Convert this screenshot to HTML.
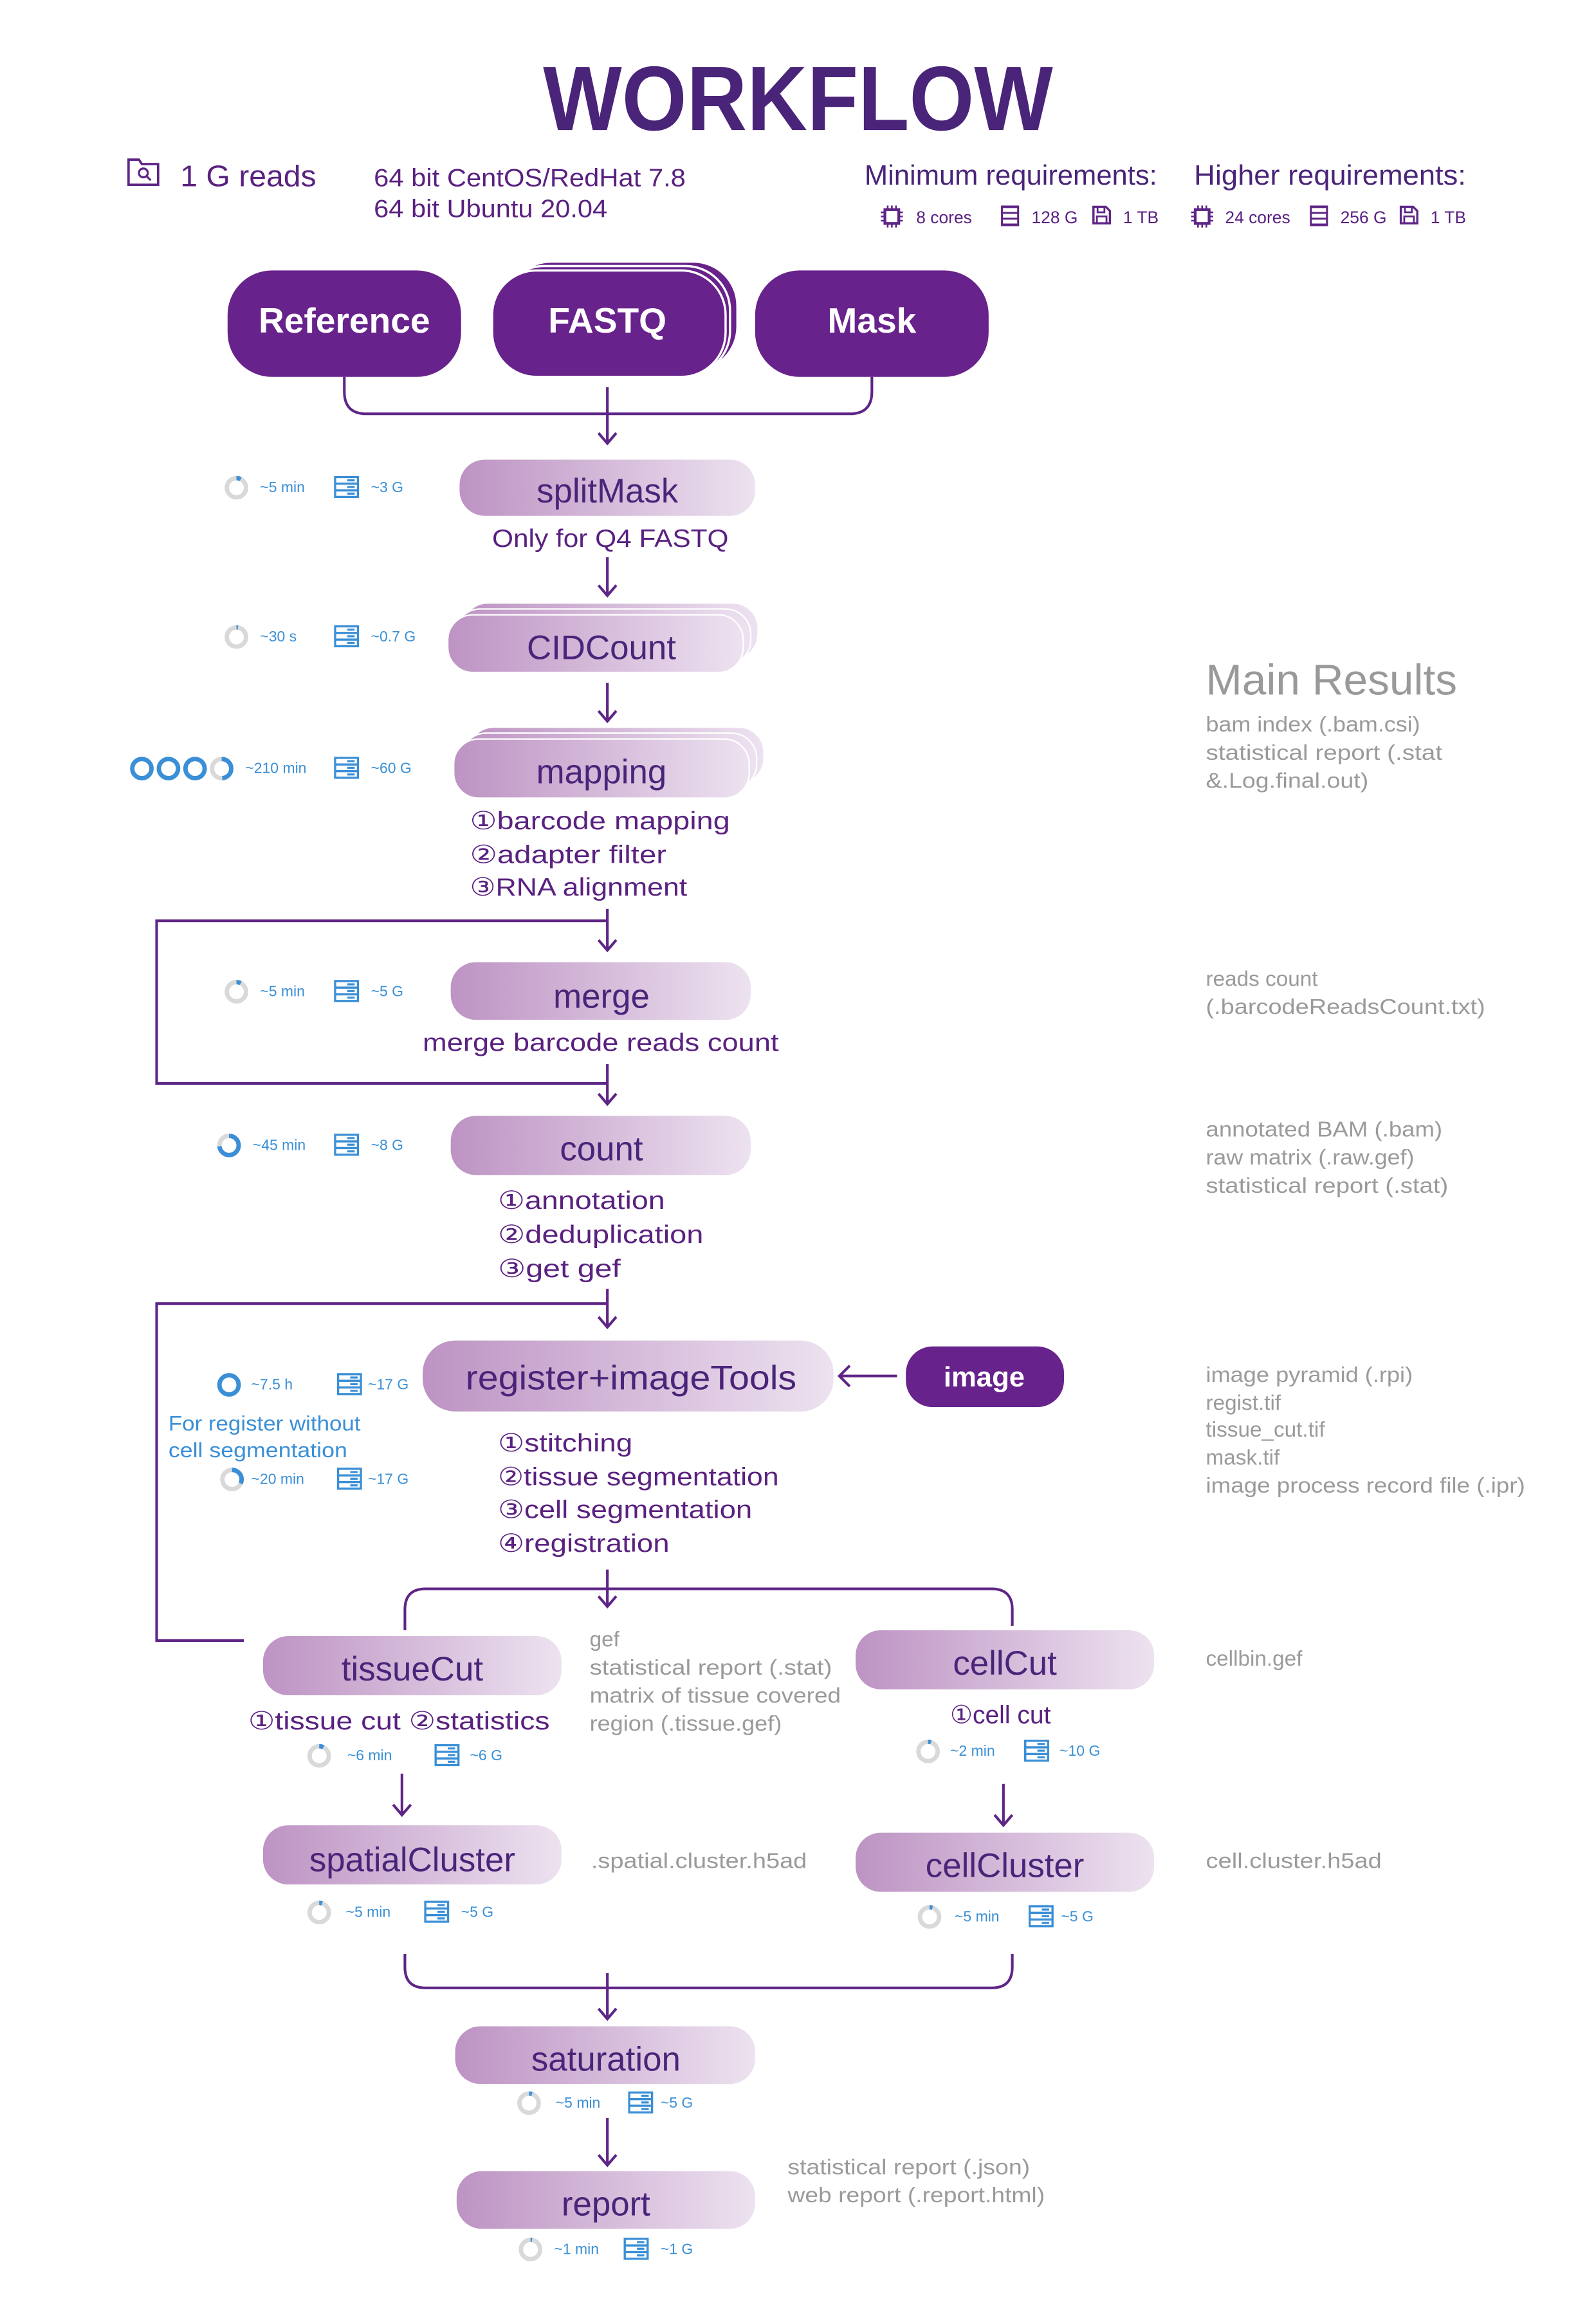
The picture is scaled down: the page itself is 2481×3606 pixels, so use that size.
<!DOCTYPE html>
<html><head><meta charset="utf-8"><style>
html,body{margin:0;padding:0;background:#fff;}
svg{display:block}
text{font-family:"Liberation Sans","DejaVu Sans",sans-serif;}
.h{fill:#4a2479;font-size:23px;text-anchor:middle}
.d{fill:#5a2180;font-size:17px}
.g{fill:#9a9a9a;font-size:14.5px}
.b{fill:#3a8fd6;font-size:10px}
.w{fill:#fff;font-weight:bold;text-anchor:middle}
.ln{fill:none;stroke:#5e2586;stroke-width:1.8}
</style></head><body>
<svg width="2481" height="3606" viewBox="0 0 1080 1569.7" preserveAspectRatio="none" xmlns="http://www.w3.org/2000/svg">
<defs>
<linearGradient id="gr" x1="0" x2="1" y1="0" y2="0"><stop offset="0" stop-color="#bd93c3"/><stop offset="1" stop-color="#ede2f0"/></linearGradient>
<symbol id="mem" viewBox="0 0 17 15"><rect x="0" y="0" width="17" height="15" fill="#3a8fd6"/><rect x="1.5" y="1.5" width="14" height="3" fill="#fff"/><rect x="1.5" y="6" width="14" height="3" fill="#fff"/><rect x="1.5" y="10.5" width="14" height="3" fill="#fff"/><rect x="9" y="2.3" width="5" height="1.4" fill="#3a8fd6"/><rect x="9" y="6.8" width="5" height="1.4" fill="#3a8fd6"/><rect x="9" y="11.3" width="5" height="1.4" fill="#3a8fd6"/></symbol>
<symbol id="cpu" viewBox="0 0 16 16"><rect x="3" y="3" width="10" height="10" fill="none" stroke="#5e2586" stroke-width="2"/><path d="M5 0v3M8 0v3M11 0v3M5 13v3M8 13v3M11 13v3M0 5h3M0 8h3M0 11h3M13 5h3M13 8h3M13 11h3" stroke="#5e2586" stroke-width="1.2"/></symbol>
<symbol id="ram" viewBox="0 0 14 16"><rect x="0" y="0" width="14" height="16" fill="#5e2586"/><rect x="1.5" y="2" width="11" height="3" fill="#fff"/><rect x="1.5" y="6.5" width="11" height="3" fill="#fff"/><rect x="1.5" y="11" width="11" height="3" fill="#fff"/></symbol>
<symbol id="disk" viewBox="0 0 14 14"><path d="M1 1h9l3 3v9H1z" fill="none" stroke="#5e2586" stroke-width="1.6"/><rect x="4" y="1" width="5" height="4" fill="none" stroke="#5e2586" stroke-width="1.3"/><rect x="3.5" y="8" width="7" height="5" fill="none" stroke="#5e2586" stroke-width="1.3"/></symbol>
</defs>

<text x="540" y="88" text-anchor="middle" font-size="62" font-weight="bold" fill="#4a2479" textLength="345" lengthAdjust="spacingAndGlyphs">WORKFLOW</text>
<path d="M87 108h7l2 3h11v14H87z" fill="none" stroke="#5e2586" stroke-width="1.6"/>
<circle cx="97" cy="117" r="3" fill="none" stroke="#5e2586" stroke-width="1.4"/><path d="M99 119l3 3" stroke="#5e2586" stroke-width="1.4"/>
<text x="122" y="126" font-size="20" fill="#5a2180" textLength="92" lengthAdjust="spacingAndGlyphs">1 G reads</text>
<text x="253" y="126" class="d" textLength="211" lengthAdjust="spacingAndGlyphs">64 bit CentOS/RedHat 7.8</text>
<text x="253" y="147" class="d" textLength="158" lengthAdjust="spacingAndGlyphs">64 bit Ubuntu 20.04</text>
<text x="585" y="125" font-size="19" fill="#4a2479" textLength="198" lengthAdjust="spacingAndGlyphs">Minimum requirements:</text>
<text x="808" y="125" font-size="19" fill="#4a2479" textLength="184" lengthAdjust="spacingAndGlyphs">Higher requirements:</text>
<use href="#cpu" x="596" y="139" width="15" height="15"/><text x="620" y="151" font-size="11.5" fill="#5a2180">8 cores</text>
<use href="#ram" x="677" y="139" width="13" height="14"/><text x="698" y="151" font-size="11.5" fill="#5a2180">128 G</text>
<use href="#disk" x="739" y="139" width="13" height="13"/><text x="760" y="151" font-size="11.5" fill="#5a2180">1 TB</text>
<use href="#cpu" x="806" y="139" width="15" height="15"/><text x="829" y="151" font-size="11.5" fill="#5a2180">24 cores</text>
<use href="#ram" x="886" y="139" width="13" height="14"/><text x="907" y="151" font-size="11.5" fill="#5a2180">256 G</text>
<use href="#disk" x="947" y="139" width="13" height="13"/><text x="968" y="151" font-size="11.5" fill="#5a2180">1 TB</text>

<rect x="154" y="183" width="158" height="72" rx="30" fill="#68228b"/>
<text x="233" y="225" class="w" font-size="24">Reference</text>
<rect x="343" y="177" width="156" height="74" rx="30" fill="#68228b" stroke="#fff" stroke-width="1.5"/>
<rect x="338" y="180" width="156" height="74" rx="30" fill="#68228b" stroke="#fff" stroke-width="1.5"/>
<rect x="333" y="183" width="158" height="72" rx="30" fill="#68228b" stroke="#fff" stroke-width="1.5"/>
<text x="411" y="225" class="w" font-size="24">FASTQ</text>
<rect x="511" y="183" width="158" height="72" rx="30" fill="#68228b"/>
<text x="590" y="225" class="w" font-size="24">Mask</text>
<path class="ln" d="M233 255v10q0 15 15 15h327q15 0 15-15v-10"/>
<path class="ln" d="M411 262v38M405 293l6 7 6-7"/>

<rect x="311" y="311" width="200" height="38" rx="17" fill="url(#gr)"/>
<text x="411" y="340" class="h" font-size="24">splitMask</text>
<text x="413" y="370" class="d" text-anchor="middle" textLength="160" lengthAdjust="spacingAndGlyphs">Only for Q4 FASTQ</text>
<path class="ln" d="M411 377v26M405 396l6 7 6-7"/>

<rect x="313" y="408" width="200" height="38" rx="17" fill="url(#gr)" stroke="#fff"/>
<rect x="308" y="412" width="200" height="38" rx="17" fill="url(#gr)" stroke="#fff"/>
<rect x="303" y="416" width="200" height="39" rx="17" fill="url(#gr)" stroke="#fff"/>
<text x="407" y="446" class="h" font-size="24">CIDCount</text>
<path class="ln" d="M411 462v26M405 481l6 7 6-7"/>

<rect x="317" y="492" width="200" height="38" rx="17" fill="url(#gr)" stroke="#fff"/>
<rect x="312" y="496" width="200" height="38" rx="17" fill="url(#gr)" stroke="#fff"/>
<rect x="307" y="500" width="200" height="40" rx="17" fill="url(#gr)" stroke="#fff"/>
<text x="407" y="530" class="h" font-size="24">mapping</text>
<text x="318" y="561" class="d" font-size="18" textLength="176" lengthAdjust="spacingAndGlyphs">①barcode mapping</text>
<text x="318" y="584" class="d" font-size="18" textLength="133" lengthAdjust="spacingAndGlyphs">②adapter filter</text>
<text x="318" y="606" class="d" font-size="18" textLength="147" lengthAdjust="spacingAndGlyphs">③RNA alignment</text>

<path class="ln" d="M411 615v28M405 636l6 7 6-7"/>
<path class="ln" d="M411 623H106v110h305"/>
<path class="ln" d="M411 720v27M405 740l6 7 6-7"/>

<rect x="305" y="651" width="203" height="39" rx="17" fill="url(#gr)"/>
<text x="407" y="682" class="h" font-size="24">merge</text>
<text x="286" y="711" class="d" font-size="18" textLength="241" lengthAdjust="spacingAndGlyphs">merge barcode reads count</text>

<rect x="305" y="755" width="203" height="40" rx="17" fill="url(#gr)"/>
<text x="407" y="785" class="h" font-size="24">count</text>
<text x="337" y="818" class="d" font-size="18" textLength="113" lengthAdjust="spacingAndGlyphs">①annotation</text>
<text x="337" y="841" class="d" font-size="18" textLength="139" lengthAdjust="spacingAndGlyphs">②deduplication</text>
<text x="337" y="864" class="d" font-size="18" textLength="83" lengthAdjust="spacingAndGlyphs">③get gef</text>

<path class="ln" d="M411 872v26M405 891l6 7 6-7"/>
<path class="ln" d="M411 882H106v228h59"/>

<rect x="286" y="907" width="278" height="48" rx="22" fill="url(#gr)"/>
<text x="427" y="940" class="h" font-size="23" textLength="224" lengthAdjust="spacingAndGlyphs">register+imageTools</text>
<path class="ln" d="M607 931h-39M575 924l-7 7 7 7"/>
<rect x="613" y="911" width="107" height="41" rx="18" fill="#68228b"/>
<text x="666" y="938" class="w" font-size="19">image</text>
<text x="337" y="982" class="d" font-size="18" textLength="91" lengthAdjust="spacingAndGlyphs">①stitching</text>
<text x="337" y="1005" class="d" font-size="18" textLength="190" lengthAdjust="spacingAndGlyphs">②tissue segmentation</text>
<text x="337" y="1027" class="d" font-size="18" textLength="172" lengthAdjust="spacingAndGlyphs">③cell segmentation</text>
<text x="337" y="1050" class="d" font-size="18" textLength="116" lengthAdjust="spacingAndGlyphs">④registration</text>
<text x="114" y="968" fill="#3a8fd6" font-size="14" textLength="130" lengthAdjust="spacingAndGlyphs">For register without</text>
<text x="114" y="986" fill="#3a8fd6" font-size="14" textLength="121" lengthAdjust="spacingAndGlyphs">cell segmentation</text>

<path class="ln" d="M411 1062v25M405 1080l6 7 6-7"/>
<path class="ln" d="M274 1103v-14q0-14 14-14h383q14 0 14 14v11"/>

<rect x="178" y="1107" width="202" height="40" rx="17" fill="url(#gr)"/>
<text x="279" y="1137" class="h" font-size="24">tissueCut</text>
<text x="168" y="1170" class="d" font-size="18" textLength="204" lengthAdjust="spacingAndGlyphs">①tissue cut  ②statistics</text>
<text x="399" y="1114" class="g">gef</text>
<text x="399" y="1133" class="g" textLength="164" lengthAdjust="spacingAndGlyphs">statistical report (.stat)</text>
<text x="399" y="1152" class="g" textLength="170" lengthAdjust="spacingAndGlyphs">matrix of tissue covered</text>
<text x="399" y="1171" class="g" textLength="130" lengthAdjust="spacingAndGlyphs">region (.tissue.gef)</text>

<rect x="579" y="1103" width="202" height="40" rx="17" fill="url(#gr)"/>
<text x="680" y="1133" class="h" font-size="24">cellCut</text>
<text x="677" y="1166" class="d" font-size="18" text-anchor="middle">①cell cut</text>

<path class="ln" d="M272 1200v28M266 1221l6 7 6-7"/>
<path class="ln" d="M679 1207v28M673 1228l6 7 6-7"/>

<rect x="178" y="1235" width="202" height="40" rx="17" fill="url(#gr)"/>
<text x="279" y="1266" class="h" font-size="24">spatialCluster</text>
<text x="400" y="1264" class="g" textLength="146" lengthAdjust="spacingAndGlyphs">.spatial.cluster.h5ad</text>
<rect x="579" y="1240" width="202" height="40" rx="17" fill="url(#gr)"/>
<text x="680" y="1270" class="h" font-size="24">cellCluster</text>

<path class="ln" d="M274 1322v9q0 14 14 14h383q14 0 14-14v-9"/>
<path class="ln" d="M411 1335v31M405 1359l6 7 6-7"/>

<rect x="308" y="1371" width="203" height="39" rx="17" fill="url(#gr)"/>
<text x="410" y="1401" class="h" font-size="24">saturation</text>
<path class="ln" d="M411 1433v32M405 1458l6 7 6-7"/>
<rect x="309" y="1469" width="202" height="39" rx="17" fill="url(#gr)"/>
<text x="410" y="1499" class="h" font-size="24">report</text>
<text x="533" y="1471" class="g" textLength="164" lengthAdjust="spacingAndGlyphs">statistical report (.json)</text>
<text x="533" y="1490" class="g" textLength="174" lengthAdjust="spacingAndGlyphs">web report (.report.html)</text>

<text x="816" y="470" font-size="29" fill="#999" textLength="170" lengthAdjust="spacingAndGlyphs">Main Results</text>
<text x="816" y="495" class="g" textLength="145" lengthAdjust="spacingAndGlyphs">bam index (.bam.csi)</text>
<text x="816" y="514" class="g" textLength="160" lengthAdjust="spacingAndGlyphs">statistical report (.stat</text>
<text x="816" y="533" class="g" textLength="110" lengthAdjust="spacingAndGlyphs">&amp;.Log.final.out)</text>
<text x="816" y="667" class="g">reads count</text>
<text x="816" y="686" class="g" textLength="189" lengthAdjust="spacingAndGlyphs">(.barcodeReadsCount.txt)</text>
<text x="816" y="769" class="g" textLength="160" lengthAdjust="spacingAndGlyphs">annotated BAM (.bam)</text>
<text x="816" y="788" class="g" textLength="141" lengthAdjust="spacingAndGlyphs">raw matrix (.raw.gef)</text>
<text x="816" y="807" class="g" textLength="164" lengthAdjust="spacingAndGlyphs">statistical report (.stat)</text>
<text x="816" y="935" class="g" textLength="140" lengthAdjust="spacingAndGlyphs">image pyramid (.rpi)</text>
<text x="816" y="954" class="g">regist.tif</text>
<text x="816" y="972" class="g">tissue_cut.tif</text>
<text x="816" y="991" class="g">mask.tif</text>
<text x="816" y="1010" class="g" textLength="216" lengthAdjust="spacingAndGlyphs">image process record file (.ipr)</text>
<text x="816" y="1127" class="g">cellbin.gef</text>
<text x="816" y="1264" class="g" textLength="119" lengthAdjust="spacingAndGlyphs">cell.cluster.h5ad</text>

<g fill="none" stroke-width="3">
<g stroke="#d9d9d9">
<circle cx="160" cy="330" r="6.5"/><circle cx="160" cy="431" r="6.5"/><circle cx="150" cy="520" r="6.5"/><circle cx="160" cy="671" r="6.5"/>
<circle cx="155" cy="775" r="6.5"/><circle cx="157" cy="1001" r="6.5"/><circle cx="216" cy="1188" r="6.5"/><circle cx="628" cy="1185" r="6.5"/>
<circle cx="216" cy="1294" r="6.5"/><circle cx="629" cy="1297" r="6.5"/><circle cx="358" cy="1423" r="6.5"/><circle cx="359" cy="1522" r="6.5"/>
</g>
<g stroke="#3a8fd6">
<circle cx="96" cy="520" r="6.5"/><circle cx="114" cy="520" r="6.5"/><circle cx="132" cy="520" r="6.5"/><circle cx="155" cy="937" r="6.5"/>
<circle cx="160" cy="330" r="6.5" stroke-dasharray="3 100" transform="rotate(-90 160 330)"/>
<circle cx="160" cy="431" r="6.5" stroke-dasharray="1 100" transform="rotate(-90 160 431)"/>
<circle cx="150" cy="520" r="6.5" stroke-dasharray="20 100" transform="rotate(-90 150 520)"/>
<circle cx="160" cy="671" r="6.5" stroke-dasharray="3 100" transform="rotate(-90 160 671)"/>
<circle cx="155" cy="775" r="6.5" stroke-dasharray="30 100" transform="rotate(-90 155 775)"/>
<circle cx="157" cy="1001" r="6.5" stroke-dasharray="13 100" transform="rotate(-90 157 1001)"/>
<circle cx="216" cy="1188" r="6.5" stroke-dasharray="3 100" transform="rotate(-90 216 1188)"/>
<circle cx="628" cy="1185" r="6.5" stroke-dasharray="2 100" transform="rotate(-90 628 1185)"/>
<circle cx="216" cy="1294" r="6.5" stroke-dasharray="2 100" transform="rotate(-90 216 1294)"/>
<circle cx="629" cy="1297" r="6.5" stroke-dasharray="2 100" transform="rotate(-90 629 1297)"/>
<circle cx="358" cy="1423" r="6.5" stroke-dasharray="2 100" transform="rotate(-90 358 1423)"/>
<circle cx="359" cy="1522" r="6.5" stroke-dasharray="1 100" transform="rotate(-90 359 1522)"/>
</g></g>

<text x="176" y="333" class="b">~5 min</text><use href="#mem" x="226" y="322" width="17" height="15"/><text x="251" y="333" class="b">~3 G</text>
<text x="176" y="434" class="b">~30 s</text><use href="#mem" x="226" y="423" width="17" height="15"/><text x="251" y="434" class="b">~0.7 G</text>
<text x="166" y="523" class="b">~210 min</text><use href="#mem" x="226" y="512" width="17" height="15"/><text x="251" y="523" class="b">~60 G</text>
<text x="176" y="674" class="b">~5 min</text><use href="#mem" x="226" y="663" width="17" height="15"/><text x="251" y="674" class="b">~5 G</text>
<text x="171" y="778" class="b">~45 min</text><use href="#mem" x="226" y="767" width="17" height="15"/><text x="251" y="778" class="b">~8 G</text>
<text x="170" y="940" class="b">~7.5 h</text><use href="#mem" x="228" y="929" width="17" height="15"/><text x="249" y="940" class="b">~17 G</text>
<text x="170" y="1004" class="b">~20 min</text><use href="#mem" x="228" y="993" width="17" height="15"/><text x="249" y="1004" class="b">~17 G</text>
<text x="235" y="1191" class="b">~6 min</text><use href="#mem" x="294" y="1180" width="17" height="15"/><text x="318" y="1191" class="b">~6 G</text>
<text x="643" y="1188" class="b">~2 min</text><use href="#mem" x="693" y="1177" width="17" height="15"/><text x="717" y="1188" class="b">~10 G</text>
<text x="234" y="1297" class="b">~5 min</text><use href="#mem" x="287" y="1286" width="17" height="15"/><text x="312" y="1297" class="b">~5 G</text>
<text x="646" y="1300" class="b">~5 min</text><use href="#mem" x="696" y="1289" width="17" height="15"/><text x="718" y="1300" class="b">~5 G</text>
<text x="376" y="1426" class="b">~5 min</text><use href="#mem" x="425" y="1415" width="17" height="15"/><text x="447" y="1426" class="b">~5 G</text>
<text x="375" y="1525" class="b">~1 min</text><use href="#mem" x="422" y="1514" width="17" height="15"/><text x="447" y="1525" class="b">~1 G</text>
</svg>
</body></html>
